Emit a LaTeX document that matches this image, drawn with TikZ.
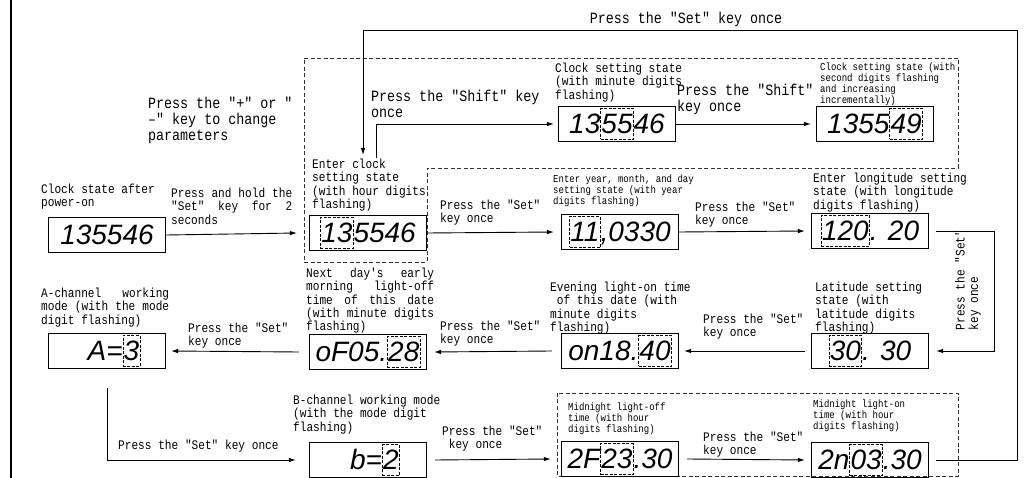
\documentclass[tikz,border=0pt]{standalone}
\usepackage{fontspec}
\setmainfont{Liberation Mono}[FakeStretch=0.85, Ligatures=TeXOff]
\newfontfamily\segfont{Liberation Sans}
\usetikzlibrary{arrows.meta}

\newcommand{\lgfont}{\fontsize{15.7}{16}\selectfont}
\newcommand{\mdfont}{\fontsize{13.1}{13.3}\selectfont\fontdimen3\font=1em\relax}
\newcommand{\smfont}{\fontsize{10.6}{10.8}\selectfont}
\newcommand{\flash}[1]{\tikz[baseline]\node[flashbox]{#1};}

\begin{document}
\begin{tikzpicture}[x=1pt, y=-1pt,
  disp/.style={draw, line width=1.2pt, minimum width=117pt, minimum height=35pt, inner sep=0pt, font=\segfont\itshape\fontsize{28}{28}\selectfont},
  flashbox/.style={draw, dash pattern=on 3pt off 1.5pt, line width=0.6pt, inner xsep=0.8pt, inner ysep=0pt, minimum width=0pt, minimum height=31pt, anchor=base},
  lbl/.style={inner sep=0pt, anchor=north west, align=left, font=\mdfont},
  arr/.style={-{Latex[length=7pt,width=4.5pt]}, line width=0.9pt},
  grp/.style={dash pattern=on 4pt off 2.5pt, line width=0.7pt, black!80}]
\useasboundingbox (0,0) rectangle (1026,478);
\draw[line width=1.2pt] (11,0) -- (11,478);
\draw[grp] (304,58) -- (958,58) -- (958,168) -- (427,168) -- (427,262) -- (304,262) -- cycle;
\draw[grp] (557,393) rectangle (958,476);

\node[disp] (d0) at (107,235) {135546};
\node[disp] (d1) at (368,233) {\flash{13}5546};
\node[disp] (d2) at (617,124) {13\flash{55}46};
\node[disp] (d3) at (875,124) {1355\flash{49}};
\node[disp] (d4) at (620,232) {\flash{11},0330};
\node[disp] (d5) at (870,231) {\flash{120}. 20};
\node[disp] (d6) at (870,351) {\flash{30}. 30};
\node[disp] (d7) at (620,351) {on18.\flash{40}};
\node[disp] (d8) at (368,352) {oF05.\flash{28}};
\node[disp] (d9) at (107,351) {\hspace{14pt}A=\flash{3}};
\node[disp] (d10) at (368,460) {\hspace{14pt}b=\flash{2}};
\node[disp] (d11) at (620,459) {2F\flash{23}.30};
\node[disp] (d12) at (870,460) {2n\flash{03}.30};

\node[lbl] (t0) at (41,184) {Clock state after\\power-on};
\node[lbl, align=justify, text width=121pt] (t1) at (171,188) {Press and hold the\linebreak "Set" key for 2\linebreak seconds};
\node[lbl, font=\lgfont] (t2) at (148,97) {Press the "+" or "\\–" key to change\\parameters};
\node[lbl] (t3) at (312,159) {Enter clock\\setting state\\(with hour digits\\flashing)};
\node[lbl, font=\lgfont] (t4) at (371,90) {Press the "Shift" key\\once};
\node[lbl] (t5) at (555,63) {Clock setting state\\(with minute digits\\flashing)};
\node[lbl, font=\lgfont] (t6) at (677,84) {Press the "Shift"\\key once};
\node[lbl, font=\smfont] (t7) at (820,63) {Clock setting state (with\\second digits flashing\\and increasing\\incrementally)};
\node[lbl] (t8) at (440,200) {Press the "Set"\\key once};
\node[lbl, font=\smfont] (t9) at (553,175) {Enter year, month, and day\\setting state (with year\\digits flashing)};
\node[lbl] (t10) at (695,202) {Press the "Set"\\key once};
\node[lbl] (t11) at (813,173) {Enter longitude setting\\state (with longitude\\digits flashing)};
\node[lbl, anchor=center, rotate=90] (t12) at (968,280) {Press the "Set"\\key once};
\node[lbl] (t13) at (815,282) {Latitude setting\\state (with\\latitude digits\\flashing)};
\node[lbl] (t14) at (703,314) {Press the "Set"\\key once};
\node[lbl] (t15) at (550,282) {Evening light-on time\\\hphantom{x}of this date (with\\minute digits\\flashing)};
\node[lbl] (t16) at (440,321) {Press the "Set"\\key once};
\node[lbl, align=justify, text width=128pt] (t17) at (306,268) {Next day's early\linebreak morning light-off\linebreak time of this date\linebreak (with minute digits\linebreak flashing)};
\node[lbl, align=justify, text width=128pt] (t18) at (41,288) {A-channel working\linebreak mode (with the mode\linebreak digit flashing)};
\node[lbl] (t19) at (188,323) {Press the "Set"\\key once};
\node[lbl] (t20) at (118,440) {Press the "Set" key once};
\node[lbl] (t21) at (293,395) {B-channel working mode\\(with the mode digit\\flashing)};
\node[lbl] (t22) at (442,426) {Press the "Set"\\\hphantom{x}key once};
\node[lbl, font=\smfont] (t23) at (568,403) {Midnight light-off\\time (with hour\\digits flashing)};
\node[lbl] (t24) at (703,432) {Press the "Set"\\key once};
\node[lbl, font=\smfont] (t25) at (813,400) {Midnight light-on\\time (with hour\\digits flashing)};
\node[font=\lgfont, inner sep=0pt, anchor=north] (t26) at (686,12) {Press the "Set" key once};

\coordinate (loopR) at (1017,30);
\coordinate (setin) at (363,155);
\coordinate (shiftout) at (376,158);
\draw[arr] (d0.east) -- ([xshift=-12pt]d1.west);
\draw[arr] (shiftout) |- ([xshift=-4pt]d2.west);
\draw[arr] (d2.east) -- ([xshift=-5pt]d3.west);
\draw[arr] (d1.east) -- ([xshift=-7pt]d4.west);
\draw[arr] (d4.east) -- ([xshift=-6pt]d5.west);
\draw[arr] ([xshift=7pt]d5.east) -- ++(58,0) |- ([xshift=7pt]d6.east);
\draw[arr] ([xshift=-6pt]d6.west) -- ([xshift=5pt]d7.east);
\draw[arr] ([xshift=-9pt]d7.west) -- ([xshift=7pt]d8.east);
\draw[arr] ([xshift=-10pt]d8.west) -- ([xshift=5pt]d9.east);
\draw[arr] ([yshift=-19pt]d9.south) |- ([xshift=-13pt]d10.west);
\draw[arr] ([xshift=8pt]d10.east) -- ([xshift=-10pt]d11.west);
\draw[arr] ([xshift=8pt]d11.east) -- ([xshift=-6pt]d12.west);
\draw[arr] ([xshift=7pt]d12.east) -| (loopR) -| (setin);
\end{tikzpicture}
\end{document}
